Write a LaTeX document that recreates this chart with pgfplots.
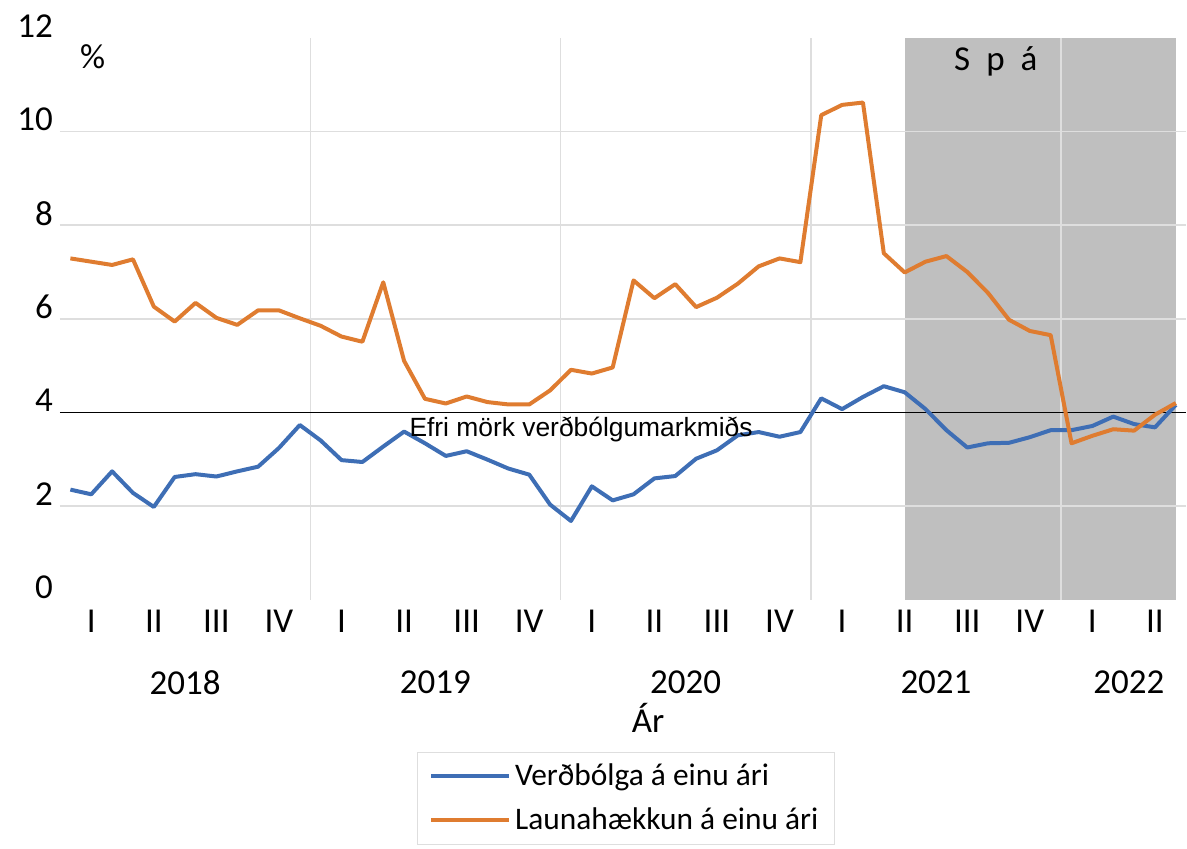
\documentclass[border=0pt]{standalone}
\usepackage{fontspec}
\setmainfont{Carlito}
\newfontfamily\arialfont{Liberation Sans}
\usepackage{pgfplots}
\pgfplotsset{compat=1.18}
\definecolor{blueline}{RGB}{62,110,181}
\definecolor{orangeline}{RGB}{223,124,48}
\definecolor{spagray}{RGB}{191,191,191}
\definecolor{gridgray}{RGB}{222,222,222}
\begin{document}
\begin{tikzpicture}
\begin{axis}[
  at={(0,0)}, anchor=south west,
  scale only axis, width=563.5pt, height=281pt,
  set layers,
  xmin=-0.5, xmax=53.5, ymin=0, ymax=12,
  axis line style={draw=none},
  major tick length=0pt,
  ytick={2,6,8,10},
  extra y ticks={0,4,12},
  extra y tick style={grid=none},
  ymajorgrids,
  xtick={1,4,...,52},
  xticklabels={I,II,III,IV,I,II,III,IV,I,II,III,IV,I,II,III,IV,I,II},
  extra x ticks={11.5,23.5,35.5,47.5},
  extra x tick labels={},
  extra x tick style={grid=major},
  grid style={gridgray, line width=0.75pt},
  tick label style={font=\fontsize{17.5}{21}\selectfont},
  /pgf/number format/assume math mode=true,
  yticklabel style={yshift=6pt},
  xticklabel style={anchor=center, yshift=-11pt},
  clip=false,
  legend style={at={(0.3168,-0.2705)}, anchor=north west, draw=gridgray,
    font=\fontsize{15.7}{18}\selectfont, inner xsep=6pt, inner ysep=4pt, row sep=5.5pt},
  legend cell align=left,
  legend image code/.code={\draw[#1] (0pt,0pt) -- (32pt,0pt); \path (32pt,0pt) -- (39pt,0pt);},
]
\addplot[fill=spagray, draw=none, forget plot, on layer=axis background] coordinates {(40,0) (40,12) (53,12) (53,0)} -- cycle;
\addplot[black, line width=0.75pt, forget plot] coordinates {(-0.5,4) (53.5,4)};
\addplot[blueline, line width=2pt, line join=round] coordinates {
(0,2.35) (1,2.25) (2,2.74) (3,2.28) (4,1.98) (5,2.62) (6,2.68) (7,2.63) (8,2.74) (9,2.84)
(10,3.24) (11,3.73) (12,3.40) (13,2.98) (14,2.94) (15,3.27) (16,3.59) (17,3.34) (18,3.07) (19,3.17)
(20,2.99) (21,2.80) (22,2.67) (23,2.03) (24,1.68) (25,2.42) (26,2.12) (27,2.25) (28,2.59) (29,2.64)
(30,3.01) (31,3.19) (32,3.51) (33,3.58) (34,3.48) (35,3.58) (36,4.30) (37,4.07) (38,4.33) (39,4.56)
(40,4.43) (41,4.07) (42,3.62) (43,3.25) (44,3.34) (45,3.35) (46,3.47) (47,3.62) (48,3.62) (49,3.71)
(50,3.91) (51,3.75) (52,3.68) (53,4.16)};
\addlegendentry{Verðbólga á einu ári}
\addplot[orangeline, line width=2pt, line join=round] coordinates {
(0,7.29) (1,7.22) (2,7.15) (3,7.27) (4,6.26) (5,5.94) (6,6.34) (7,6.02) (8,5.87) (9,6.18)
(10,6.18) (11,6.01) (12,5.85) (13,5.62) (14,5.51) (15,6.78) (16,5.10) (17,4.29) (18,4.19) (19,4.34)
(20,4.22) (21,4.17) (22,4.17) (23,4.47) (24,4.91) (25,4.83) (26,4.96) (27,6.82) (28,6.44) (29,6.74)
(30,6.25) (31,6.45) (32,6.75) (33,7.12) (34,7.29) (35,7.21) (36,10.35) (37,10.57) (38,10.62) (39,7.40)
(40,6.99) (41,7.22) (42,7.34) (43,7.00) (44,6.55) (45,5.98) (46,5.74) (47,5.65) (48,3.34) (49,3.50)
(50,3.64) (51,3.61) (52,3.95) (53,4.20)};
\addlegendentry{Launahækkun á einu ári}
\node[font=\fontsize{17.5}{21}\selectfont] at (axis cs:1.07,11.61) {\%};
\node[font=\fontsize{17.5}{21}\selectfont] at (axis cs:44.37,11.51) {S\hspace{0.46em}p\hspace{0.46em}á};
\node[anchor=north west, inner sep=0pt, font=\arialfont\fontsize{13.2}{16}\selectfont] at (axis cs:16.24,4) [yshift=-2pt] {Efri mörk verðbólgumarkmiðs};
\node[font=\fontsize{17.5}{21}\selectfont] at (axis cs:5.5,0) [yshift=-41.5pt] {2018};
\node[font=\fontsize{17.5}{21}\selectfont] at (axis cs:17.5,0) [yshift=-41.5pt] {2019};
\node[font=\fontsize{17.5}{21}\selectfont] at (axis cs:29.5,0) [yshift=-41.5pt] {2020};
\node[font=\fontsize{17.5}{21}\selectfont] at (axis cs:41.5,0) [yshift=-41.5pt] {2021};
\node[font=\fontsize{17.5}{21}\selectfont] at (axis cs:50.75,0) [yshift=-41.5pt] {2022};
\node[font=\fontsize{17.5}{21}\selectfont] at (axis cs:27.7,0) [yshift=-59pt] {Ár};
\end{axis}
\path (-30pt,-124.5pt) rectangle (563.5pt,300pt);
\end{tikzpicture}
\end{document}
